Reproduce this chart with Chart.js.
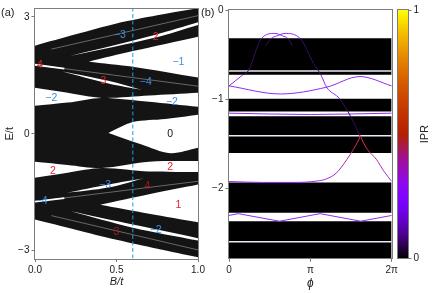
<!DOCTYPE html>
<html>
<head>
<meta charset="utf-8">
<script src="https://cdn.jsdelivr.net/npm/chart.js@4.4.1/dist/chart.umd.min.js"></script>
<style>
  body { margin: 0; background: #fff; }
  #fig { position: relative; width: 436px; height: 293px; overflow: hidden; }
  #fig canvas { position: absolute; top: 0; }
</style>
</head>
<body>
<div id="fig">
  <canvas id="chartA" width="215" height="293" style="left:0"></canvas>
  <canvas id="chartB" width="215" height="293" style="left:196px"></canvas>
  <canvas id="chartC" width="46" height="293" style="left:390px"></canvas>
</div>
<script>
const PI = Math.PI;
const FONT = "'Liberation Sans', Arial, sans-serif";

// ---- (a) spectrum against B/t ----
const bTicks = [0, 0.5, 1];
const bTickText = ['0.0', '0.5', '1.0'];
const eTicks = [-3, 0, 3];
const eTickText = ['−3', '0', '3'];

// outer envelope of the bulk bands
const spectrumTop = [[0, 2.26], [0.25, 2.55], [0.5, 2.83], [0.75, 3.04], [1, 3.22]];
const spectrumBot = [[0, -2.2], [0.25, -2.46], [0.5, -2.72], [0.75, -2.95], [1, -3.17]];

// gaps (upper edge / lower edge)
const gapUp2Top = [[0.22, 2.0], [0.74, 2.54], [1, 2.86]];
const gapUp2Bot = [[0.22, 2.0], [0.74, 2.47], [1, 2.79]];
const gapM1Top = [[0.33, 1.85], [0.6, 2.12], [1, 2.49]];
const gapM1Bot = [[0.33, 1.85], [0.6, 1.72], [1, 1.44]];
const gap3Top = [[0.17, 1.6], [0.45, 1.36], [0.66, 1.12]];
const gap3Bot = [[0.17, 1.6], [0.45, 1.29], [0.66, 1.12]];
const gapM2Top = [[0, 1.18], [0.2, 1.05], [0.41, 0.92], [0.7, 0.98], [1, 1.05]];
const gapM2Bot = [[0, 0.72], [0.2, 0.8], [0.41, 0.92], [0.7, 0.82], [1, 0.69]];
const gap0Top = [[0.45, 0.02], [0.6, 0.3], [0.8, 0.38], [1, 0.49]];
const gap0Bot = [[0.45, 0.02], [0.65, -0.27], [0.83, -0.5], [1, -0.36]];
const gapLo2Top = [[0, -0.72], [0.2, -0.8], [0.41, -0.88], [0.7, -0.72], [1, -0.7]];
const gapLo2Bot = [[0, -1.13], [0.2, -1.0], [0.41, -0.88], [0.7, -0.97], [1, -0.98]];
const gapM3Top = [[0.19, -1.52], [0.45, -1.3], [0.67, -1.14]];
const gapM3Bot = [[0.19, -1.52], [0.45, -1.38], [0.67, -1.14]];
const gap1Top = [[0.4, -1.82], [0.7, -1.55], [1, -1.3]];
const gap1Bot = [[0.4, -1.82], [0.7, -2.05], [1, -2.27]];
const gapLoM2Top = [[0.22, -1.99], [0.6, -2.33], [1, -2.68]];
const gapLoM2Bot = [[0.22, -1.99], [0.6, -2.41], [1, -2.74]];

// thin in-band lines
const lineUp4 = [[0, 1.77], [1, 1.22]];
const lineLo4 = [[0, -1.74], [1, -1.22]];
const flashUp4 = [[0, 1.77], [0.18, 1.67]];
const flashLo4 = [[0, -1.74], [0.18, -1.65]];
const lineUpR1 = [[0.1, 2.17], [1, 3.03]];
const lineLoR1 = [[0.1, -2.1], [1, -2.98]];
const cutB = 0.6;

const chernText = ['−3', '2', '4', '−1', '3', '−4', '−2', '−2', '0',
                   '2', '2', '−3', '4', '−4', '1', '3', '−2'];
const chernAt = [[0.52, 2.54], [0.74, 2.49], [0.03, 1.77], [0.88, 1.85], [0.42, 1.36], [0.68, 1.33],
                 [0.1, 0.92], [0.84, 0.82], [0.83, 0], [0.11, -0.95], [0.83, -0.85], [0.43, -1.33],
                 [0.69, -1.35], [0.04, -1.74], [0.88, -1.82], [0.5, -2.53], [0.74, -2.48]];
const darkLabels = [12, 15];

// ---- (b) spectrum against phi ----
const phiTicks = [0, PI, 2 * PI];
const phiTickText = ['0', 'π', '2π'];
const eTicksB = [-2, -1, 0];
const eTickTextB = ['−2', '−1', '0'];
const bandTop = [-0.317, -0.994, -1.19, -1.93, -2.365];
const bandBot = [-0.726, -1.136, -1.6, -2.27, -2.8];
const bulkLines = [-0.682, -1.408, -2.595];
// edge states, phi in units of pi
const edgeA = [[0, -0.85], [0.17, -0.726], [0.237, -0.68], [0.4, -0.317], [0.565, -0.262], [0.66, -0.29], [0.72, -0.317], [0.78, -0.4]];
const edgeB = [[0.45, -0.4], [0.52, -0.317], [0.59, -0.29], [0.688, -0.262], [0.873, -0.317], [1.04, -0.6],
               [1.13, -0.726], [1.2, -0.864], [1.36, -0.994], [1.5, -1.2], [1.61, -1.41]];
const edgeC = [[0, -0.85], [0.63, -0.94], [1.2, -0.864], [1.61, -0.745], [2, -0.85]];
const edgeD = [[0, -1.155], [1, -1.17], [2, -1.155]];
const cuspL = [[0, -1.92], [0.4, -1.93], [0.8, -1.93], [1.08, -1.915], [1.2, -1.89], [1.32, -1.825],
               [1.447, -1.676], [1.53, -1.56], [1.58, -1.48], [1.615, -1.41]];
const cuspR = [[1.615, -1.41], [1.65, -1.48], [1.7, -1.56], [1.815, -1.676], [1.9, -1.8], [2, -1.92]];
const zigzag = [[0, -2.3], [0.114, -2.28], [0.62, -2.365], [1.12, -2.28], [1.62, -2.365], [2, -2.3]];

// ---- colorbar ----
const iprTicks = [0, 1];
const iprTickText = ['0', '1'];
const iprStops = [[0, '#000000'], [0.1, '#510096'], [0.2, '#7202f3'], [0.25, '#8004ff'], [0.3, '#8c07f3'],
                  [0.4, '#a11096'], [0.5, '#b42000'], [0.6, '#c63700'], [0.7, '#d55700'],
                  [0.8, '#e48300'], [0.9, '#f2ba00'], [1, '#ffff00']];

const edgeColor = '#8f2cf2';
const edgeDim = '#3a0f66';

const xy = arr => arr.map(p => ({x: p[0], y: p[1]}));
const xyPi = arr => arr.map(p => ({x: p[0] * PI, y: p[1]}));

function axis(min, max, ticks, text, extra) {
  return Object.assign({
    type: 'linear', min: min, max: max,
    afterBuildTicks: s => { s.ticks = ticks.map(v => ({value: v})); },
    ticks: {callback: (v, i) => text[i], font: {family: FONT, size: 10}, color: '#222',
            padding: 2, maxRotation: 0, autoSkip: false},
    grid: {drawOnChartArea: false, drawTicks: true, tickLength: 3.5, color: '#555', lineWidth: 0.8},
    border: {display: false}
  }, extra);
}

const frame = {
  id: 'frame',
  afterDatasetsDraw(chart) {
    const a = chart.chartArea, ctx = chart.ctx;
    ctx.save();
    ctx.strokeStyle = '#7d7d7d';
    ctx.lineWidth = 1;
    ctx.strokeRect(Math.round(a.left) - 0.5, Math.round(a.top) - 0.5, Math.round(a.width) + 1, Math.round(a.height) + 1);
    ctx.restore();
  }
};

function region(top, bot, color, order, tension) {
  return [
    {data: xy(top), fill: '+1', backgroundColor: color, borderWidth: 0, pointRadius: 0, tension: tension, order: order},
    {data: xy(bot), fill: false, borderWidth: 0, pointRadius: 0, tension: tension, order: order}
  ];
}
function line(pts, color, width, order) {
  return {data: xy(pts), fill: false, borderColor: color, borderWidth: width, pointRadius: 0, order: order};
}

const gapsA = [[gapUp2Top, gapUp2Bot], [gapM1Top, gapM1Bot], [gap3Top, gap3Bot], [gapM2Top, gapM2Bot],
               [gap0Top, gap0Bot], [gapLo2Top, gapLo2Bot], [gapM3Top, gapM3Bot], [gap1Top, gap1Bot],
               [gapLoM2Top, gapLoM2Bot]];

const dsA = [].concat(
  region(spectrumTop, spectrumBot, '#141414', 10, 0.3),
  ...gapsA.map(g => region(g[0], g[1], '#ffffff', 5, 0.3)),
  [line(lineUp4, '#8c8c8c', 0.7, 3), line(lineLo4, '#8c8c8c', 0.7, 3),
   line(lineUpR1, '#8c8c8c', 0.7, 3), line(lineLoR1, '#8c8c8c', 0.7, 3),
   line(flashUp4, '#ffffff', 1.8, 2), line(flashLo4, '#ffffff', 1.8, 2),
   {data: xy([[cutB, -3.2], [cutB, 3.2]]), fill: false, borderColor: '#1f9fe0', borderWidth: 1,
    borderDash: [4, 2.5], pointRadius: 0, order: 1}]
);

const chernPlugin = {
  id: 'chern',
  afterDatasetsDraw(chart) {
    const ctx = chart.ctx, x = chart.scales.x, y = chart.scales.y;
    ctx.save();
    ctx.font = '10.5px ' + FONT;
    ctx.textAlign = 'center';
    ctx.textBaseline = 'middle';
    chernText.forEach((t, i) => {
      ctx.fillStyle = t === '0' ? '#111' : t.startsWith('−') ? '#3d8fe6' : (darkLabels.includes(i) ? '#b3111c' : '#e3232c');
      ctx.fillText(t, x.getPixelForValue(chernAt[i][0]), y.getPixelForValue(chernAt[i][1]));
    });
    ctx.font = '11px ' + FONT;
    ctx.fillStyle = '#222';
    ctx.textAlign = 'left';
    ctx.fillText('(a)', 1, 13);
    ctx.restore();
  }
};

new Chart(document.getElementById('chartA'), {
  type: 'line',
  data: {datasets: dsA},
  options: {
    responsive: false, animation: false, events: [],
    layout: {padding: {left: 0, top: 9, right: 17, bottom: 0}},
    plugins: {legend: {display: false}, tooltip: {enabled: false}, filler: {drawTime: 'beforeDatasetDraw'}},
    scales: {
      x: axis(0, 1, bTicks, bTickText, {
        afterFit: s => { s.height = 34.5; },
        title: {display: true, text: 'B/t', color: '#222', font: {family: FONT, size: 11, style: 'italic'}, padding: {top: 0, bottom: 4}}
      }),
      y: axis(-3.2, 3.2, eTicks, eTickText, {
        afterFit: s => { s.width = 35; },
        title: {display: true, text: 'E/t', color: '#222', font: {family: FONT, size: 11}, padding: {top: 3, bottom: 0}}
      })
    }
  },
  plugins: [frame, chernPlugin]
});

// ---- chart B ----
const inBand = e => bandTop.some((t, i) => e < t - 0.005 && e > bandBot[i] + 0.005);

function edge(pts, order) {
  return {data: xyPi(pts), fill: false, borderColor: edgeColor, borderWidth: 1, pointRadius: 0,
          cubicInterpolationMode: 'monotone', order: order,
          segment: {borderColor: c => inBand((pts[c.p0DataIndex][1] + pts[c.p1DataIndex][1]) / 2) ? edgeDim : undefined}};
}
function cuspColor(chart) {
  const a = chart.chartArea, y = chart.scales.y;
  if (!a) return edgeColor;
  const g = chart.ctx.createLinearGradient(0, y.getPixelForValue(-1.93), 0, y.getPixelForValue(-1.42));
  g.addColorStop(0, edgeColor);
  g.addColorStop(0.5, '#b8289a');
  g.addColorStop(1, '#e0303c');
  return g;
}

const dsB = [];
bandTop.forEach((t, i) => {
  dsB.push({data: xyPi([[0, t], [2, t]]), fill: '+1', backgroundColor: '#000', borderWidth: 0, pointRadius: 0, order: 10});
  dsB.push({data: xyPi([[0, bandBot[i]], [2, bandBot[i]]]), fill: false, borderWidth: 0, pointRadius: 0, order: 10});
});
bulkLines.forEach(e => {
  dsB.push({data: xyPi([[0, e], [2, e]]), fill: false, borderColor: '#efe8f6', borderWidth: 1.5, pointRadius: 0, order: 5});
});
[edgeA, edgeB, edgeC, edgeD].forEach(p => dsB.push(edge(p, 2)));
dsB.push({data: xyPi(zigzag), fill: false, borderColor: edgeColor, borderWidth: 1, pointRadius: 0, tension: 0, order: 2});
[cuspL, cuspR].forEach(p => dsB.push({data: xyPi(p), fill: false, borderColor: c => cuspColor(c.chart), borderWidth: 1,
  pointRadius: 0, cubicInterpolationMode: 'monotone', order: 1}));

const labelB = {
  id: 'labelB',
  afterDraw(chart) {
    const ctx = chart.ctx;
    ctx.save();
    ctx.font = '11px ' + FONT;
    ctx.fillStyle = '#222';
    ctx.textBaseline = 'middle';
    ctx.fillText('(b)', 5, 13);
    ctx.restore();
  }
};

new Chart(document.getElementById('chartB'), {
  type: 'line',
  data: {datasets: dsB},
  options: {
    responsive: false, animation: false, events: [],
    layout: {padding: {left: 0, top: 10, right: 19.3, bottom: 0}},
    plugins: {legend: {display: false}, tooltip: {enabled: false}, filler: {drawTime: 'beforeDatasetDraw'}},
    scales: {
      x: axis(0, 2 * PI, phiTicks, phiTickText, {
        afterFit: s => { s.height = 34.7; },
        title: {display: true, text: 'ϕ', color: '#222', font: {family: FONT, size: 12, style: 'italic'}, padding: {top: 0, bottom: 2}}
      }),
      y: axis(-2.78, 0, eTicksB, eTickTextB, {afterFit: s => { s.width = 33; }})
    }
  },
  plugins: [frame, labelB]
});

// ---- colorbar ----
function cbGradient(chart) {
  const a = chart.chartArea;
  if (!a) return '#000';
  const g = chart.ctx.createLinearGradient(0, a.bottom, 0, a.top);
  iprStops.forEach(s => g.addColorStop(s[0], s[1]));
  return g;
}
const iprTitle = {
  id: 'iprTitle',
  afterDraw(chart) {
    const ctx = chart.ctx, a = chart.chartArea;
    ctx.save();
    ctx.translate(35, (a.top + a.bottom) / 2);
    ctx.rotate(-PI / 2);
    ctx.font = '11px ' + FONT;
    ctx.fillStyle = '#222';
    ctx.textAlign = 'center';
    ctx.textBaseline = 'middle';
    ctx.fillText('IPR', 0, 0);
    ctx.restore();
  }
};

new Chart(document.getElementById('chartC'), {
  type: 'bar',
  data: {labels: [''], datasets: [{data: [1], backgroundColor: c => cbGradient(c.chart), borderWidth: 0,
    barPercentage: 1, categoryPercentage: 1}]},
  options: {
    responsive: false, animation: false, events: [],
    layout: {padding: {left: 8, top: 10, right: 0, bottom: 34.7}},
    plugins: {legend: {display: false}, tooltip: {enabled: false}},
    scales: {
      x: {display: false},
      y: axis(0, 1, iprTicks, iprTickText, {position: 'right', afterFit: s => { s.width = 28; }})
    }
  },
  plugins: [frame, iprTitle]
});
</script>
</body>
</html>
